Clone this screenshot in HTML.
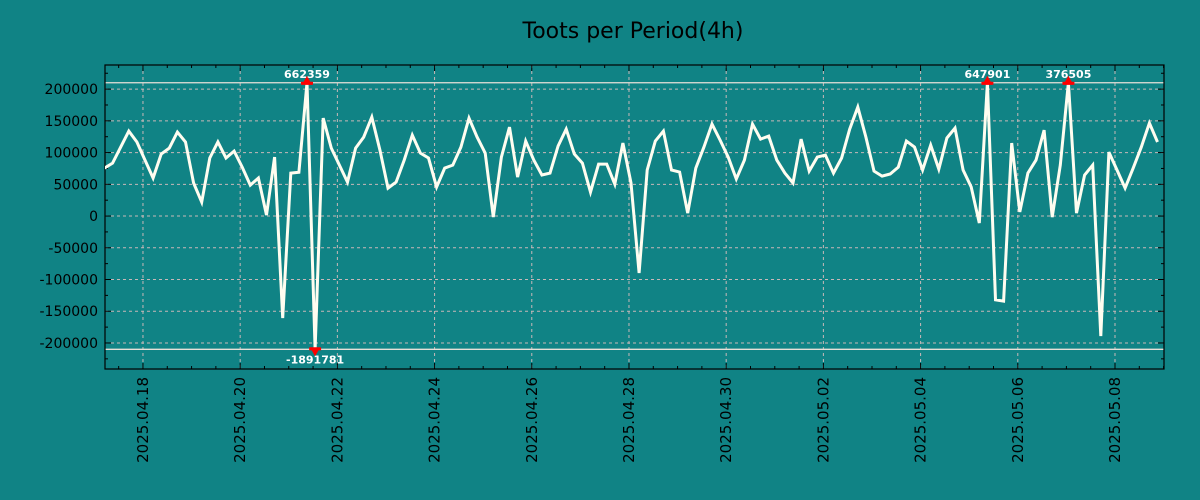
<!DOCTYPE html>
<html><head><meta charset="utf-8"><style>
html,body{margin:0;padding:0;background:#108385;}
svg{display:block;font-family:"DejaVu Sans","Liberation Sans",sans-serif;}
</style></head><body>
<svg id="chart" width="1200" height="500" viewBox="0 0 1200 500" xmlns="http://www.w3.org/2000/svg">
<rect width="1200" height="500" fill="#108385"/>
<text x="633" y="38" text-anchor="middle" font-size="22" fill="#000">Toots per Period(4h)</text>
<g id="grid"></g>
<g id="axes"></g>
<g id="series"></g>
<g id="annot"></g>
</svg>
<script>
const values = [75600,83500,108700,133900,116600,88200,59900,97700,107100,132300,116600,52000,22000,91400,116600,91400,102400,77200,48800,59900,1600,92900,-160700,67700,69000,662359,-1891781,154300,107100,80300,53500,107100,124400,155900,104000,44100,53500,88200,127600,99200,91400,45700,75600,80300,108700,154300,124400,99200,-1600,92900,140200,61400,118100,88200,64600,67700,110300,137000,97700,83500,37800,81900,81900,50400,115000,52000,-89800,72500,118100,133900,72500,69300,4700,75600,108700,144900,119700,92900,58300,88200,144900,121300,126000,88200,67700,52000,121300,70900,92900,96100,67700,91400,137000,171700,124400,70900,63000,66200,77200,118100,108700,72500,111800,74000,122900,138600,72500,45700,-11000,647901,-132000,-134000,115000,6300,67700,88200,135500,-1600,80300,376505,4700,64600,80300,-189000,100800,72500,44100,75600,108700,146500,116600];
const startHour = -19;
const periodHours = 4;
const yTicks = [200000,150000,100000,50000,0,-50000,-100000,-150000,-200000];
const xTickLabels = ["2025.04.18","2025.04.20","2025.04.22","2025.04.24","2025.04.26","2025.04.28","2025.04.30","2025.05.02","2025.05.04","2025.05.06","2025.05.08"];
const clipLimit = 210000;

const NS="http://www.w3.org/2000/svg";
const L=105,R=1164,T=65,B=369;
const yMin=-241000,yMax=238000;
const hourMin=-18.75,hourMax=504.2;
function ys(v){return B-(v-yMin)/(yMax-yMin)*(B-T);}
function xs(h){return L+(h-hourMin)/(hourMax-hourMin)*(R-L);}
function mk(tag,attrs,parent){const e=document.createElementNS(NS,tag);for(const k in attrs)e.setAttribute(k,attrs[k]);parent.appendChild(e);return e;}
const grid=document.getElementById('grid'),axes=document.getElementById('axes'),series=document.getElementById('series'),annot=document.getElementById('annot');

// y grid + labels
yTicks.forEach(v=>{
  const y=ys(v);
  const g=mk('line',{x1:L,x2:R,y1:y,y2:y,stroke:'#c8b8b8','stroke-width':1,'stroke-dasharray':'3,3'},grid);
  
  
  const t=mk('text',{x:98,y:y+5,'text-anchor':'end','font-size':14,fill:'#000'},axes);
  t.textContent=v;
  
  
  mk('line',{x1:L,x2:L+6,y1:y,y2:y,stroke:'#000'},axes);
  mk('line',{x1:R,x2:R-6,y1:y,y2:y,stroke:'#000'},axes);
});
for(let v=-225000;v<=225000;v+=50000){const y=ys(v);mk('line',{x1:L,x2:L+3,y1:y,y2:y,stroke:'#000'},axes);mk('line',{x1:R,x2:R-3,y1:y,y2:y,stroke:'#000'},axes);}
// x grid + labels
xTickLabels.forEach((lab,i)=>{
  const x=xs(i*48);
  const g=mk('line',{x1:x,x2:x,y1:T,y2:B,stroke:'#c8b8b8','stroke-width':1,'stroke-dasharray':'3,3'},grid);
  
  
  const t=mk('text',{x:0,y:0,'text-anchor':'end','font-size':15,fill:'#000',transform:`translate(${x+5},377) rotate(-90)`},axes);
  t.textContent=lab;
  
  
});
for(let h=-12;h<=hourMax;h+=12){const x=xs(h);const len=(h%48===0)?6:3;mk('line',{x1:x,x2:x,y1:B,y2:B-len,stroke:'#000'},axes);mk('line',{x1:x,x2:x,y1:T,y2:T+len,stroke:'#000'},axes);}
// limit lines
[clipLimit,-clipLimit].forEach(v=>{const l=mk('line',{x1:L,x2:R,y1:ys(v),y2:ys(v),stroke:'#e8e0d8','stroke-width':1.3},grid);
  
  });
// frame
const fr=mk('rect',{x:L,y:T,width:R-L,height:B-T,fill:'none',stroke:'#000','stroke-width':1.2},axes);


// series
const pts=values.map((v,i)=>{const c=Math.max(-clipLimit,Math.min(clipLimit,v));return [xs(startHour+i*periodHours),ys(c)];});
const cp=mk('clipPath',{id:'pc'},series);mk('rect',{x:L,y:T,width:R-L,height:B-T},cp);
const pl=mk('polyline',{points:pts.map(p=>p[0].toFixed(1)+','+p[1].toFixed(1)).join(' '),fill:'none',stroke:'#fffdf0','stroke-width':3,'stroke-linejoin':'miter','clip-path':'url(#pc)'},series);


// annotations for clipped values
values.forEach((v,i)=>{
  if(Math.abs(v)<=clipLimit)return;
  const x=pts[i][0],y=pts[i][1];
  const up=v>0;
  const tri=mk('path',{d:up?`M${x-5},${y+2} L${x},${y-7} L${x+5},${y+2} Z`:`M${x-5},${y-2} L${x},${y+7} L${x+5},${y-2} Z`,fill:'#f00'},annot);
  
  
  mk('rect',{x:x-6,y:up?y-1:y-2,width:12,height:3,fill:'#f00'},annot);
  const t=mk('text',{x:x,y:up?y-5:y+14,'text-anchor':'middle','font-size':11,'font-weight':'bold',fill:'#fff'},annot);
  t.textContent=v;
  
  
});
</script>
</body></html>
